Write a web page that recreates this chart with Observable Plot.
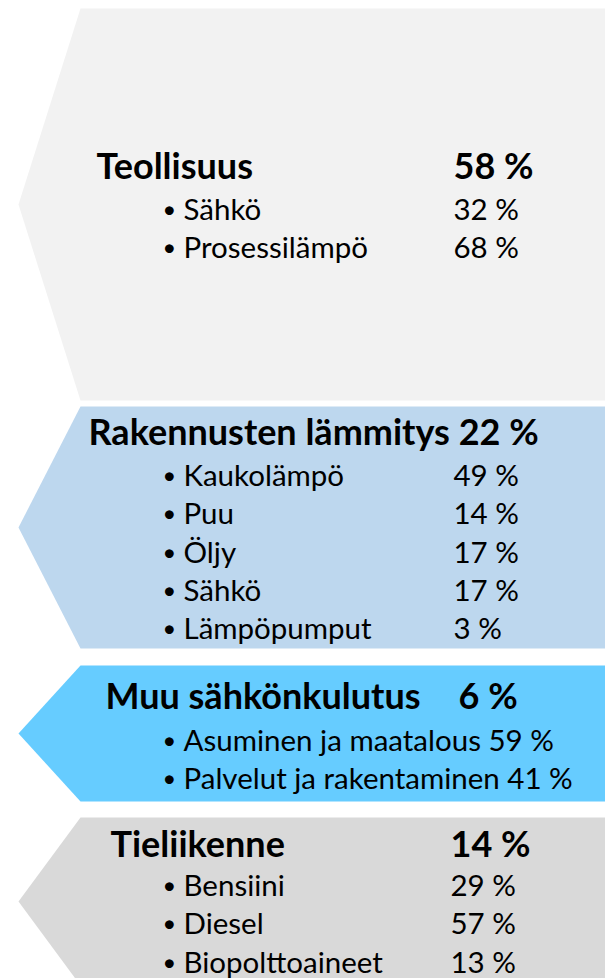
<!DOCTYPE html>
<html>
<head>
<meta charset="utf-8">
<script src="https://cdn.jsdelivr.net/npm/d3@7"></script>
<script src="https://cdn.jsdelivr.net/npm/@observablehq/plot@0.6"></script>
<style>
  html, body { margin: 0; padding: 0; background: #fff; }
  #chart svg { display: block; }
</style>
</head>
<body>
<div id="chart"></div>
<script>
// ---- data ----
const groups = ["Teollisuus", "Rakennusten lämmitys", "Muu sähkönkulutus", "Tieliikenne"];
const groupShares = [58, 22, 6, 14];
const groupColors = ["#f2f2f2", "#bdd7ee", "#66ccff", "#d9d9d9"];

const itemGroups = [0, 0, 1, 1, 1, 1, 1, 2, 2, 3, 3, 3];
const itemLabels = ["Sähkö", "Prosessilämpö",
  "Kaukolämpö", "Puu", "Öljy", "Sähkö", "Lämpöpumput",
  "Asuminen ja maatalous", "Palvelut ja rakentaminen",
  "Bensiini", "Diesel", "Biopolttoaineet"];
const itemShares = [32, 68, 49, 14, 17, 17, 3, 59, 41, 29, 57, 13];

// ---- layout ----
const W = 605, H = 978;
const blockTop = [8, 406, 665, 817];
const blockBottom = [400, 648, 801, 985];
const tipX = 18, bodyX = 80;
const titleX = [96, 88, 105, 110];
const titleY = [167, 433, 697, 845];
const titleValX = [453, null, 458, 450];   // null: value written inline
const itemValX = [453, 453, null, 450];
const firstRowY = [210, 476, 741, 886];
const rowStep = 38.3;
const bulletX = 162, labelX = 183;
const titleSize = 36, itemSize = 29.5;

// polygons (arrow shapes pointing left)
const poly = [];
groups.forEach((g, i) => {
  const t = blockTop[i], b = blockBottom[i], m = (t + b) / 2;
  [[bodyX, t], [W + 5, t], [W + 5, b], [bodyX, b], [tipX, m]].forEach(([x, y]) =>
    poly.push({g, x, y, color: groupColors[i]}));
});

// title texts
const titles = groups.map((g, i) => ({
  x: titleX[i], y: titleY[i],
  text: titleValX[i] == null ? `${g} ${groupShares[i]} %` : g
}));
const titleVals = groups.map((g, i) => ({x: titleValX[i], y: titleY[i], text: `${groupShares[i]} %`}))
  .filter(d => d.x != null);

// item rows
const rowIdx = {};
const items = itemLabels.map((lab, k) => {
  const gi = itemGroups[k];
  rowIdx[gi] = (rowIdx[gi] ?? -1) + 1;
  const y = firstRowY[gi] + rowIdx[gi] * rowStep;
  return {gi, y, label: itemValX[gi] == null ? `${lab} ${itemShares[k]} %` : lab,
          val: `${itemShares[k]} %`, vx: itemValX[gi]};
});

const font = "Lato, 'Open Sans', sans-serif";

const chart = Plot.plot({
  width: W, height: H,
  margin: 0,
  x: {domain: [0, W], range: [0, W], axis: null},
  y: {domain: [0, H], range: [0, H], axis: null},
  color: {type: "identity"},
  style: {fontFamily: font, background: "#ffffff"},
  marks: [
    Plot.line(poly, {x: "x", y: "y", z: "g", fill: "color", stroke: "none", curve: "linear-closed"}),
    Plot.text(titles, {x: "x", y: "y", text: "text", textAnchor: "start", fontSize: titleSize, fontWeight: "bold", fill: "#000"}),
    Plot.text(titleVals, {x: "x", y: "y", text: "text", textAnchor: "start", fontSize: titleSize, fontWeight: "bold", fill: "#000"}),
    Plot.text(items, {x: bulletX, y: "y", text: () => "•", textAnchor: "start", fontSize: itemSize * 0.8, fill: "#000"}),
    Plot.text(items, {x: labelX, y: "y", text: "label", textAnchor: "start", fontSize: itemSize, fill: "#000"}),
    Plot.text(items.filter(d => d.vx != null), {x: "vx", y: "y", text: "val", textAnchor: "start", fontSize: itemSize, fill: "#000"})
  ]
});
document.getElementById("chart").appendChild(chart);
</script>
</body>
</html>
